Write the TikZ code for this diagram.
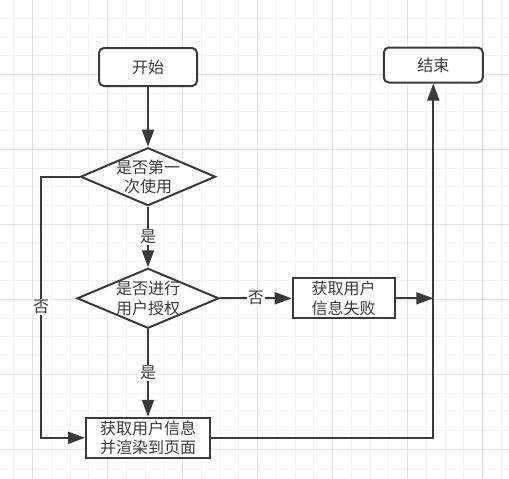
\documentclass[tikz,border=0pt]{standalone}
\usepackage{fontspec}
\setmainfont{Noto Sans CJK SC}
\usetikzlibrary{shapes.geometric,arrows.meta}
\definecolor{ln}{HTML}{3A3A3A}
\definecolor{tx}{HTML}{3A3A3A}
\definecolor{gminor}{HTML}{F2F2F2}
\definecolor{gmajor}{HTML}{E2E2E2}
\begin{document}
\begin{tikzpicture}[x=1pt,y=-1pt,
  every node/.style={font=\fontsize{16}{19.5}\selectfont, text=tx},
  rbox/.style={draw=ln,line width=2pt,rounded corners=5pt,fill=white,inner sep=0pt},
  sbox/.style={draw=ln,line width=2pt,fill=white,inner sep=0pt,align=center},
  dia/.style={diamond,draw=ln,line width=2pt,fill=white,inner sep=0pt},
  dtext/.style={align=center,inner sep=0pt},
  conn/.style={draw=ln,line width=2pt,-{Triangle[length=17pt,width=12pt]}},
  lab/.style={fill=white,inner sep=1pt}
]
\useasboundingbox (0,0) rectangle (509,479);
\fill[white] (0,0) rectangle (509,479);
% grid
\foreach \x in {13.95,32.7,...,509} \draw[gminor,line width=1pt] (\x,0) -- (\x,479);
\foreach \y in {-0.7,18.05,...,479} \draw[gminor,line width=1pt] (0,\y) -- (509,\y);
\foreach \x in {32.7,107.7,...,509} \draw[gmajor,line width=1pt] (\x,0) -- (\x,479);
\foreach \y in {-0.7,74.3,...,479} \draw[gmajor,line width=1pt] (0,\y) -- (509,\y);

% nodes
\node[rbox,minimum width=98pt,minimum height=38pt] (start) at (148,67) {开始};
\node[rbox,minimum width=99pt,minimum height=35pt] (end) at (433.3,65) {结束};
\node[dia,minimum width=135pt,minimum height=58pt] (d1) at (148,176.7) {};
\node[dtext] (d1t) at (d1.center) {是否第一\\次使用};
\node[dia,minimum width=142pt,minimum height=60pt] (d2) at (148,298.3) {};
\node[dtext] (d2t) at (d2.center) {是否进行\\用户授权};
\node[sbox,minimum width=124pt,minimum height=40pt] (box) at (148,437.8) {获取用户信息\\并渲染到页面};
\node[sbox,minimum width=102pt,minimum height=40pt] (fail) at (343.7,298.3) {获取用户\\信息失败};

\coordinate (L) at (41,437.8);
\coordinate (J) at (end.south |- fail.east);

% connectors
\draw[conn] (start.south) -- (d1.north);
\draw[conn] (d1.south) -- node[lab] (y1) {是} (d2.north);
\draw[conn] (d2.south) -- node[lab] (y2) {是} (box.north);
\draw[conn] (d1.west) -| node[lab,pos=0.75] (n1) {否} (L) -- (box.west);
\draw[conn] (d2.east) -- node[lab] (n2) {否} (fail.west);
\draw[conn] (fail.east) -- (J);
\draw[conn] (box.east) -| (end.south);
\end{tikzpicture}
\end{document}
